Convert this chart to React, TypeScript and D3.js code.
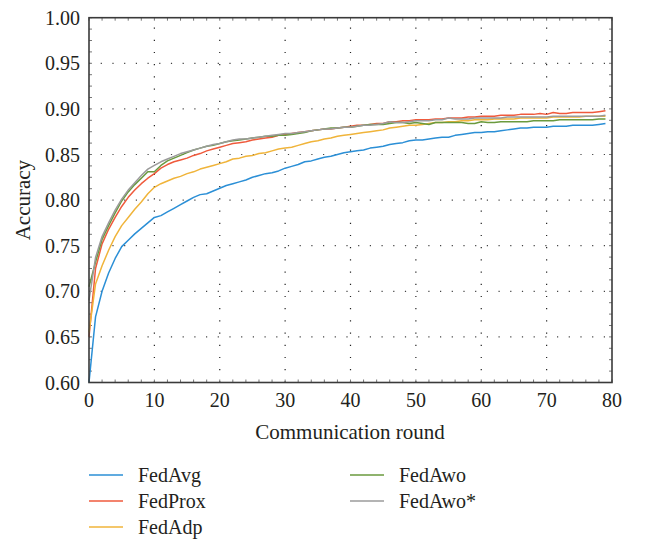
import React, { useEffect, useRef } from "react";
import * as d3 from "d3";

const rounds = d3.range(0, 80);

const fedAvg = [
  0.6, 0.672, 0.7, 0.72, 0.736, 0.749, 0.756, 0.763, 0.769, 0.775,
  0.781, 0.783, 0.787, 0.791, 0.795, 0.799, 0.803, 0.806, 0.807, 0.81,
  0.813, 0.816, 0.818, 0.82, 0.822, 0.825, 0.827, 0.829, 0.83, 0.832,
  0.835, 0.837, 0.839, 0.842, 0.843, 0.845, 0.847, 0.848, 0.85, 0.852,
  0.853, 0.854, 0.855, 0.857, 0.858, 0.859, 0.861, 0.862, 0.863, 0.865,
  0.866, 0.866, 0.867, 0.868, 0.869, 0.869, 0.871, 0.872, 0.873, 0.874,
  0.874, 0.875, 0.875, 0.876, 0.877, 0.878, 0.879, 0.879, 0.88, 0.88,
  0.88, 0.881, 0.881, 0.881, 0.882, 0.882, 0.882, 0.882, 0.883, 0.884
];

const fedProx = [
  0.65, 0.725, 0.752, 0.768, 0.781, 0.793, 0.803, 0.811, 0.818, 0.824,
  0.829, 0.835, 0.839, 0.842, 0.844, 0.846, 0.849, 0.851, 0.854, 0.856,
  0.858, 0.86, 0.862, 0.863, 0.864, 0.866, 0.867, 0.868, 0.869, 0.871,
  0.872, 0.873, 0.874, 0.875, 0.876, 0.877, 0.878, 0.878, 0.879, 0.88,
  0.881, 0.882, 0.882, 0.883, 0.884, 0.884, 0.886, 0.886, 0.887, 0.887,
  0.888, 0.888, 0.888, 0.889, 0.889, 0.89, 0.89, 0.89, 0.891, 0.891,
  0.892, 0.892, 0.892, 0.893, 0.893, 0.893, 0.894, 0.894, 0.894, 0.895,
  0.894, 0.896, 0.895, 0.895, 0.896, 0.896, 0.896, 0.896, 0.897, 0.898
];

const fedAdp = [
  0.655, 0.708, 0.728, 0.745, 0.76, 0.772, 0.781, 0.79, 0.798, 0.807,
  0.814, 0.818, 0.821, 0.824, 0.826, 0.829, 0.831, 0.834, 0.836, 0.838,
  0.84, 0.842, 0.845, 0.846, 0.848, 0.849, 0.851, 0.852, 0.854, 0.856,
  0.857, 0.858, 0.86, 0.862, 0.864, 0.865, 0.867, 0.868, 0.87, 0.871,
  0.872, 0.873, 0.874, 0.875, 0.876, 0.877, 0.879, 0.88, 0.881, 0.882,
  0.882, 0.883, 0.884, 0.885, 0.885, 0.886, 0.886, 0.887, 0.887, 0.888,
  0.888, 0.888, 0.889, 0.889, 0.889, 0.889, 0.89, 0.89, 0.89, 0.89,
  0.89, 0.891, 0.891, 0.891, 0.891, 0.891, 0.892, 0.892, 0.892, 0.892
];

const fedAwo = [
  0.705, 0.732, 0.757, 0.772, 0.786, 0.799, 0.809, 0.817, 0.824, 0.831,
  0.831, 0.838, 0.843, 0.846, 0.849, 0.852, 0.855, 0.857, 0.859, 0.86,
  0.862, 0.864, 0.865, 0.866, 0.867, 0.868, 0.869, 0.87, 0.87, 0.871,
  0.871, 0.872, 0.873, 0.874, 0.876, 0.877, 0.878, 0.879, 0.879, 0.88,
  0.88, 0.881, 0.882, 0.883, 0.883, 0.883, 0.884, 0.885, 0.885, 0.884,
  0.885, 0.884, 0.883, 0.885, 0.885, 0.885, 0.885, 0.885, 0.884, 0.884,
  0.886, 0.885, 0.885, 0.886, 0.886, 0.886, 0.886, 0.886, 0.887, 0.887,
  0.887, 0.887, 0.888, 0.888, 0.888, 0.888, 0.888, 0.888, 0.889, 0.889
];

const fedAwoStar = [
  0.69, 0.737, 0.76, 0.775, 0.789, 0.801, 0.811, 0.819, 0.827, 0.834,
  0.838, 0.842, 0.845, 0.848, 0.851, 0.853, 0.855, 0.857, 0.859, 0.861,
  0.862, 0.864, 0.866, 0.867, 0.867, 0.868, 0.869, 0.87, 0.871, 0.872,
  0.873, 0.873, 0.874, 0.875, 0.876, 0.877, 0.878, 0.878, 0.879, 0.88,
  0.88, 0.881, 0.882, 0.882, 0.883, 0.884, 0.886, 0.885, 0.885, 0.886,
  0.887, 0.887, 0.887, 0.888, 0.888, 0.89, 0.889, 0.889, 0.889, 0.89,
  0.89, 0.89, 0.89, 0.89, 0.891, 0.891, 0.891, 0.891, 0.891, 0.891,
  0.891, 0.892, 0.892, 0.892, 0.892, 0.892, 0.892, 0.892, 0.892, 0.893
];

const seriesNames = ["FedAvg", "FedProx", "FedAdp", "FedAwo", "FedAwo*"];
const seriesValues = [fedAvg, fedProx, fedAdp, fedAwo, fedAwoStar];
const seriesColors = ["#2b8fd6", "#ef5a3c", "#f0b43a", "#6a9a3e", "#9b9b9b"];

const xTicks = [0, 10, 20, 30, 40, 50, 60, 70, 80];
const yTicks = [0.6, 0.65, 0.7, 0.75, 0.8, 0.85, 0.9, 0.95, 1.0];

const FONT = "'Liberation Serif', 'Times New Roman', serif";

export default function App() {
  const ref = useRef<SVGSVGElement>(null);

  useEffect(() => {
    const svg = d3.select(ref.current);
    svg.selectAll("*").remove();

    const left = 89;
    const right = 612;
    const top = 17.7;
    const bottom = 382.5;

    const x = d3.scaleLinear().domain([0, 80]).range([left, right]);
    const y = d3.scaleLinear().domain([0.6, 1.0]).range([bottom, top]);

    // dotted grid
    const grid = svg.append("g");
    grid
      .selectAll("line.gx")
      .data(xTicks.slice(1, -1))
      .enter()
      .append("line")
      .attr("x1", d => x(d))
      .attr("x2", d => x(d))
      .attr("y1", bottom)
      .attr("y2", top)
      .attr("stroke", "#222")
      .attr("stroke-width", 1.2)
      .attr("stroke-dasharray", "1.2 11");
    grid
      .selectAll("line.gy")
      .data(yTicks.slice(1, -1))
      .enter()
      .append("line")
      .attr("x1", left)
      .attr("x2", right)
      .attr("y1", d => y(d))
      .attr("y2", d => y(d))
      .attr("stroke", "#444")
      .attr("stroke-width", 1.2)
      .attr("stroke-dasharray", "1.2 10.5");

    // minor ticks on frame
    const minorX = d3.range(0, 80.01, 2);
    const minorY = d3.range(0.6, 1.0001, 0.0125);
    const ticks = svg.append("g").attr("stroke", "#777").attr("stroke-width", 1);
    minorX.forEach(v => {
      ticks.append("line").attr("x1", x(v)).attr("x2", x(v)).attr("y1", bottom).attr("y2", bottom - 3);
      ticks.append("line").attr("x1", x(v)).attr("x2", x(v)).attr("y1", top).attr("y2", top + 3);
    });
    minorY.forEach(v => {
      ticks.append("line").attr("x1", left).attr("x2", left + 3).attr("y1", y(v)).attr("y2", y(v));
      ticks.append("line").attr("x1", right).attr("x2", right - 3).attr("y1", y(v)).attr("y2", y(v));
    });

    // lines
    const line = d3
      .line<number>()
      .x((d, i) => x(rounds[i]))
      .y(d => y(d));
    seriesValues.forEach((vals, k) => {
      svg
        .append("path")
        .datum(vals)
        .attr("fill", "none")
        .attr("stroke", seriesColors[k])
        .attr("stroke-width", 1.5)
        .attr("stroke-linejoin", "round")
        .attr("d", line);
    });

    // frame
    svg
      .append("rect")
      .attr("x", left)
      .attr("y", top)
      .attr("width", right - left)
      .attr("height", bottom - top)
      .attr("fill", "none")
      .attr("stroke", "#3a3a3a")
      .attr("stroke-width", 1.6);

    // tick labels
    svg
      .append("g")
      .selectAll("text")
      .data(yTicks)
      .enter()
      .append("text")
      .attr("x", 80)
      .attr("y", d => y(d))
      .attr("dy", "0.35em")
      .attr("text-anchor", "end")
      .style("font-family", FONT)
      .style("font-size", "20px")
      .attr("fill", "#231f20")
      .text(d => d3.format(".2f")(d));
    svg
      .append("g")
      .selectAll("text")
      .data(xTicks)
      .enter()
      .append("text")
      .attr("x", d => x(d))
      .attr("y", 407)
      .attr("text-anchor", "middle")
      .style("font-family", FONT)
      .style("font-size", "20px")
      .attr("fill", "#231f20")
      .text(d => String(d));

    // axis titles
    svg
      .append("text")
      .attr("x", 350)
      .attr("y", 439)
      .attr("text-anchor", "middle")
      .style("font-family", FONT)
      .style("font-size", "21px")
      .attr("fill", "#231f20")
      .text("Communication round");
    svg
      .append("text")
      .attr("transform", "translate(30," + (top + bottom) / 2 + ") rotate(-90)")
      .attr("text-anchor", "middle")
      .style("font-family", FONT)
      .style("font-size", "21px")
      .attr("fill", "#231f20")
      .text("Accuracy");

    // legend
    const legendPos = [
      [89, 475],
      [89, 501],
      [89, 527],
      [350, 475],
      [350, 501]
    ];
    seriesNames.forEach((name, k) => {
      const [lx, ly] = legendPos[k];
      svg
        .append("line")
        .attr("x1", lx)
        .attr("x2", lx + 34)
        .attr("y1", ly)
        .attr("y2", ly)
        .attr("stroke", seriesColors[k])
        .attr("stroke-width", 1.5);
      svg
        .append("text")
        .attr("x", lx + 49)
        .attr("y", ly)
        .attr("dy", "0.35em")
        .style("font-family", FONT)
        .style("font-size", "20px")
        .attr("fill", "#231f20")
        .text(name);
    });
  }, []);

  return (
    <svg
      ref={ref}
      width={645}
      height={541}
      style={{ position: "absolute", left: 0, top: 0, background: "#fff" }}
    />
  );
}
